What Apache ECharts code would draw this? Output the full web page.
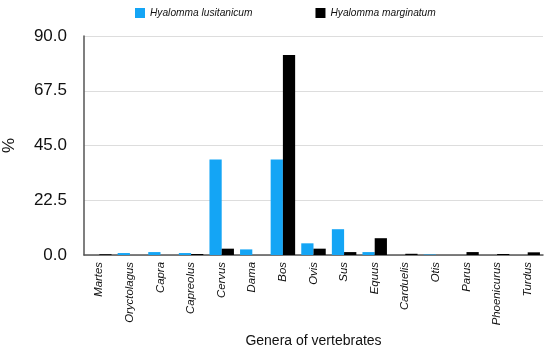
<!DOCTYPE html>
<html><head><meta charset="utf-8">
<script src="https://cdn.jsdelivr.net/npm/echarts@6/dist/echarts.min.js"></script>
<style>html,body{margin:0;padding:0;background:#fff}#c{width:550px;height:349px}</style>
</head><body><div id="c"></div>
<script>
const categories = ['Martes','Oryctolagus','Capra','Capreolus','Cervus','Dama','Bos','Ovis','Sus','Equus','Carduelis','Otis','Parus','Phoenicurus','Turdus'];
const lusitanicum = [0, 0.8, 1.2, 0.8, 39.2, 2.3, 39.2, 4.8, 10.6, 1.2, 0, 0.2, 0, 0, 0];
const marginatum = [0.3, 0, 0, 0.4, 2.6, 0, 82.2, 2.6, 1.2, 6.9, 0.5, 0, 1.2, 0.4, 1.1];
const yTicks = [0, 22.5, 45, 67.5, 90];

const chart = echarts.init(document.getElementById('c'));
const font = 'Liberation Sans, Arial, Helvetica, sans-serif';
chart.setOption({
  animation: false,
  textStyle: {fontFamily: font},
  legend: {
    top: 3, left: 130, itemGap: 63, itemWidth: 10, itemHeight: 10,
    icon: 'rect',
    textStyle: {fontSize: 10.2, fontStyle: 'italic', color: '#111', fontFamily: font},
    data: ['Hyalomma lusitanicum', 'Hyalomma marginatum']
  },
  grid: {left: 84, right: 7, top: 36, bottom: 94, containLabel: false, outerBoundsMode: 'none'},
  xAxis: {
    type: 'category', data: categories,
    name: 'Genera of vertebrates', nameLocation: 'middle', nameGap: 79,
    nameTextStyle: {fontSize: 14, color: '#111', fontFamily: font},
    axisLine: {lineStyle: {color: '#555', width: 1.5}},
    axisTick: {show: false},
    axisLabel: {rotate: 90, fontSize: 11.4, fontStyle: 'italic', color: '#111', margin: 7, interval: 0, fontFamily: font}
  },
  yAxis: {
    type: 'value', min: yTicks[0], max: yTicks[yTicks.length-1], interval: yTicks[1]-yTicks[0],
    name: '%', nameLocation: 'middle', nameGap: 66, nameRotate: 90,
    nameTextStyle: {fontSize: 17, color: '#111', fontFamily: font},
    axisLine: {show: true, lineStyle: {color: '#555', width: 1.5}},
    axisTick: {show: false},
    splitLine: {lineStyle: {color: '#ddd', width: 1}},
    axisLabel: {fontSize: 17, color: '#111', margin: 17, formatter: v => v.toFixed(1), fontFamily: font}
  },
  series: [
    {name: 'Hyalomma lusitanicum', type: 'bar', data: lusitanicum, barGap: '0%', barCategoryGap: '20%', itemStyle: {color: '#14A5F5'}},
    {name: 'Hyalomma marginatum', type: 'bar', data: marginatum, barGap: '0%', barCategoryGap: '20%', itemStyle: {color: '#000'}}
  ]
});
</script></body></html>
